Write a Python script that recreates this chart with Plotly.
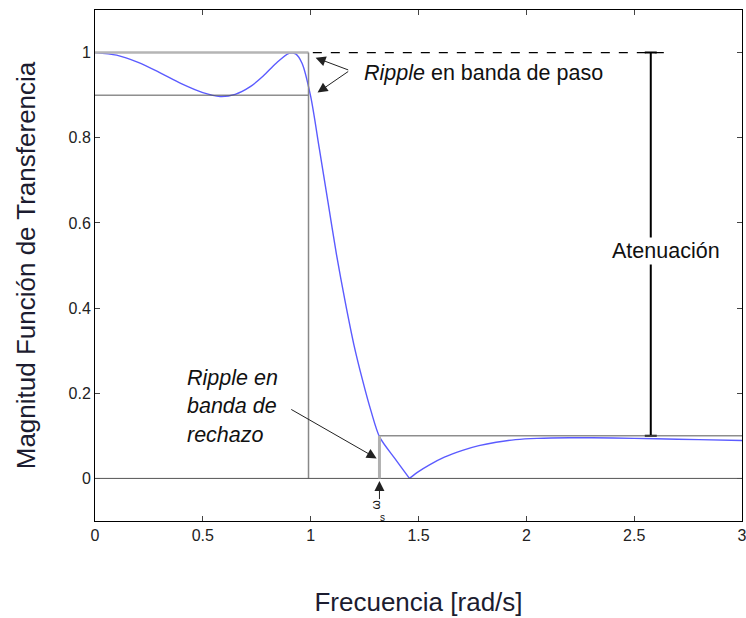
import plotly.graph_objects as go

# Curve
freq = [0.0, 0.1, 0.2, 0.3, 0.4, 0.5, 0.58, 0.65, 0.72, 0.78, 0.84, 0.90, 0.93, 0.96,
        1.0, 1.04, 1.08, 1.12, 1.16, 1.20, 1.24, 1.28, 1.32, 1.39, 1.458,
        1.50, 1.551, 1.62, 1.704, 1.78, 1.86, 1.95, 2.05, 2.2, 2.4, 2.6, 2.8, 3.0]
mag = [1.0, 0.994, 0.977, 0.953, 0.927, 0.906, 0.897, 0.902, 0.920, 0.945, 0.975, 0.998, 0.997, 0.975,
       0.897, 0.775, 0.65, 0.525, 0.415, 0.315, 0.232, 0.158, 0.097, 0.047, 0.0,
       0.016, 0.032, 0.050, 0.066, 0.077, 0.085, 0.091, 0.094, 0.0955, 0.095, 0.093, 0.091, 0.089]
zero_idx = mag.index(0.0)

x_ticks = [0, 0.5, 1, 1.5, 2, 2.5, 3]
x_tick_labels = ["0", "0.5", "1", "1.5", "2", "2.5", "3"]
y_ticks = [0, 0.2, 0.4, 0.6, 0.8, 1]
y_tick_labels = ["0", "0.2", "0.4", "0.6", "0.8", "1"]

wp = 0.99      # passband edge
ws = 1.319     # stopband edge
pass_min = 0.9
stop_max = 0.1
att_x = 2.577

fig = go.Figure()

line_style = dict(color="#5b5bff", width=1.4, shape="spline", smoothing=0.8)
fig.add_trace(go.Scatter(x=freq[:zero_idx + 1], y=mag[:zero_idx + 1], mode="lines",
                         line=line_style, showlegend=False, hoverinfo="skip"))
fig.add_trace(go.Scatter(x=freq[zero_idx:], y=mag[zero_idx:], mode="lines",
                         line=line_style, showlegend=False, hoverinfo="skip"))

# Attenuation bar
fig.add_trace(go.Scatter(x=[att_x], y=[(1 + stop_max) / 2], mode="markers",
                         marker=dict(size=0.1, color="black"),
                         error_y=dict(type="data", array=[(1 - stop_max) / 2], color="black",
                                      thickness=2, width=6),
                         showlegend=False, hoverinfo="skip"))

shapes = [
    dict(type="line", x0=0, x1=wp, y0=1, y1=1, line=dict(color="#b5b5b5", width=2.5)),
    dict(type="line", x0=0, x1=wp, y0=pass_min, y1=pass_min, line=dict(color="#555", width=1)),
    dict(type="line", x0=wp, x1=wp, y0=0, y1=1, line=dict(color="#888", width=1.5)),
    dict(type="line", x0=0, x1=3, y0=0, y1=0, line=dict(color="#555", width=1)),
    dict(type="line", x0=ws, x1=3, y0=stop_max, y1=stop_max, line=dict(color="#555", width=1)),
    dict(type="line", x0=ws, x1=ws, y0=0, y1=stop_max, line=dict(color="#b0b0b0", width=3)),
    dict(type="line", x0=1.01, x1=2.65, y0=1, y1=1, line=dict(color="black", width=1.3, dash="dash")),
]
for s in shapes:
    s["xref"] = "x"; s["yref"] = "y"
fig.update_layout(shapes=shapes)

font_txt = dict(family="Liberation Sans, Arial, sans-serif", size=21.5, color="#111")
ann = []
ann.append(dict(x=1.236, y=0.953, text="<i>Ripple</i> en banda de paso", showarrow=False,
                xanchor="left", yanchor="middle", font=font_txt))
for txt, yy in [("Ripple en", 0.235), ("banda de", 0.169), ("rechazo", 0.103)]:
    ann.append(dict(x=0.417, y=yy, text="<i>" + txt + "</i>", showarrow=False,
                    xanchor="left", yanchor="middle", font=font_txt))
ann.append(dict(x=2.648, y=0.535, text="Atenuación", showarrow=False, bgcolor="white",
                xanchor="center", yanchor="middle", font=font_txt))
arrows = [((1.181, 0.958), (1.023, 0.988)), ((1.181, 0.958), (1.032, 0.906)),
          ((0.903, 0.164), (1.306, 0.047)), ((ws, -0.052), (ws, -0.006))]
for (tx, ty), (hx, hy) in arrows:
    ann.append(dict(x=hx, y=hy, ax=tx, ay=ty, axref="x", ayref="y", text="", showarrow=True,
                    arrowhead=2, arrowsize=2, arrowwidth=1, arrowcolor="#222"))
ann.append(dict(x=1.302, y=-0.062, text="ω", textangle=-90, showarrow=False,
                font=dict(family="Liberation Sans, Arial", size=12, color="#111")))
ann.append(dict(x=1.333, y=-0.092, text="s", showarrow=False,
                font=dict(family="Liberation Sans, Arial", size=10, color="#111")))
fig.update_layout(annotations=ann)

axis_common = dict(showline=True, linecolor="black", linewidth=1, mirror="ticks", ticks="inside",
                   ticklen=5, tickcolor="#444", showgrid=False, zeroline=False, automargin=False,
                   tickfont=dict(family="Liberation Sans, Arial", size=16, color="#222"))
fig.update_xaxes(range=[0, 3], tickvals=x_ticks, ticktext=x_tick_labels, ticklabeloverflow="allow",
                 title=dict(text="Frecuencia [rad/s]", standoff=49,
                            font=dict(family="Liberation Sans, Arial", size=26, color="#1c1c30")),
                 **axis_common)
fig.update_yaxes(range=[-0.1, 1.1], tickvals=y_ticks, ticktext=y_tick_labels,
                 title=dict(text="Magnitud Función de Transferencia", standoff=25,
                            font=dict(family="Liberation Sans, Arial", size=26, color="#1c1c30")),
                 **axis_common)

fig.update_layout(width=746, height=618, margin=dict(l=95, r=4, t=10, b=97),
                  plot_bgcolor="white", paper_bgcolor="white")

fig.write_html("out.html")
